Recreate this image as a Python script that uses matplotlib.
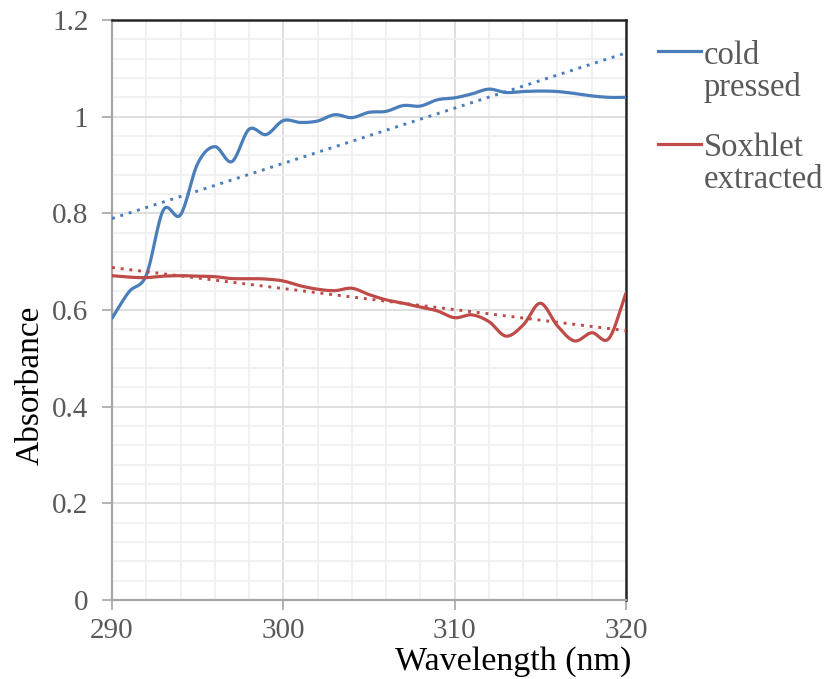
import matplotlib
matplotlib.use("Agg")
import matplotlib.pyplot as plt
from matplotlib.lines import Line2D
from matplotlib.ticker import MultipleLocator
import numpy as np

# wavelength (nm) and absorbance
wavelength = np.arange(290, 321)
cold_pressed = [0.583, 0.638, 0.672, 0.807, 0.797, 0.903, 0.938, 0.907, 0.974, 0.963,
                0.992, 0.988, 0.991, 1.004, 0.998, 1.009, 1.011, 1.023, 1.022, 1.035,
                1.039, 1.047, 1.057, 1.050, 1.052, 1.053, 1.052, 1.048, 1.043, 1.040,
                1.040]
soxhlet = [0.671, 0.668, 0.667, 0.670, 0.671, 0.670, 0.669, 0.665, 0.665, 0.664,
           0.660, 0.650, 0.643, 0.640, 0.645, 0.632, 0.621, 0.614, 0.606, 0.598,
           0.584, 0.590, 0.576, 0.546, 0.569, 0.614, 0.567, 0.536, 0.553, 0.541,
           0.635]
labels = ["cold\npressed", "Soxhlet\nextracted"]
colors = ["#4a7ebb", "#be4b48"]
yticklabels = ["0", "0.2", "0.4", "0.6", "0.8", "1", "1.2"]

TEXT = "#595959"
FONT = "Liberation Serif"


def smooth(x, y, n=20):
    """Catmull-Rom style smoothing, like Excel's smoothed line."""
    x = np.asarray(x, float); y = np.asarray(y, float)
    px = np.concatenate([[2*x[0]-x[1]], x, [2*x[-1]-x[-2]]])
    py = np.concatenate([[2*y[0]-y[1]], y, [2*y[-1]-y[-2]]])
    xs, ys = [], []
    t = np.linspace(0, 1, n, endpoint=False)
    for i in range(1, len(px) - 2):
        for p, out in ((px, xs), (py, ys)):
            p0, p1, p2, p3 = p[i-1], p[i], p[i+1], p[i+2]
            out.append(0.5*((2*p1) + (-p0 + p2)*t + (2*p0 - 5*p1 + 4*p2 - p3)*t**2
                            + (-p0 + 3*p1 - 3*p2 + p3)*t**3))
    xs.append([x[-1]]); ys.append([y[-1]])
    return np.concatenate(xs), np.concatenate(ys)


fig = plt.figure(figsize=(8.26, 6.79), dpi=100)
ax = fig.add_axes([112/826, 79/679, 514/826, 580/679])

for series, c in zip([cold_pressed, soxhlet], colors):
    sx, sy = smooth(wavelength, series)
    ax.plot(sx, sy, color=c, lw=2.3, solid_capstyle="round", zorder=3)
    k, b = np.polyfit(wavelength, series, 1)
    ax.plot(wavelength, k*wavelength + b, color=c, lw=2.1, ls=(0, (1, 2)), zorder=3)

ax.set_xlim(290, 320)
ax.set_ylim(0, 1.2)
ax.xaxis.set_major_locator(MultipleLocator(10))
ax.xaxis.set_minor_locator(MultipleLocator(2))
ax.set_yticks(np.arange(0, 1.21, 0.2))
ax.set_yticklabels(yticklabels)
ax.yaxis.set_minor_locator(MultipleLocator(0.04))

ax.grid(which="major", color="#d9d9d9", lw=1.2, zorder=0)
ax.grid(which="minor", color="#efefef", lw=1.2, zorder=0)
ax.set_axisbelow(True)

ax.tick_params(which="major", length=7, width=1.2, color="#a6a6a6",
               labelcolor=TEXT, labelsize=21, pad=6)
ax.tick_params(which="minor", length=0)
ax.tick_params(axis="y", pad=10)
for lab in ax.get_xticklabels() + ax.get_yticklabels():
    lab.set_family(FONT)

for side in ["left", "bottom"]:
    ax.spines[side].set_color("#a6a6a6")
    ax.spines[side].set_linewidth(1.6)
for side in ["top", "right"]:
    ax.spines[side].set_color("#262626")
    ax.spines[side].set_linewidth(1.8)

fig.text(513/826, 1 - 662/679, "Wavelength (nm)", ha="center", va="center",
         fontsize=24.5, family=FONT, color="black")
fig.text(30/826, 1 - 385/679, "Absorbance", ha="center", va="center",
         rotation=90, fontsize=24, family=FONT, color="black")

# legend on the right, handle at first text line
for lab, c, y in zip(labels, colors, [51, 144]):
    fig.add_artist(Line2D([658/826, 701/826], [1 - y/679] * 2, color=c, lw=2.3,
                          transform=fig.transFigure))
    fig.text(704/826, 1 - (y - 11)/679, lab, ha="left", va="top", fontsize=23.5,
             family=FONT, color=TEXT, linespacing=1.05)

fig.savefig("out.png", dpi=100)
